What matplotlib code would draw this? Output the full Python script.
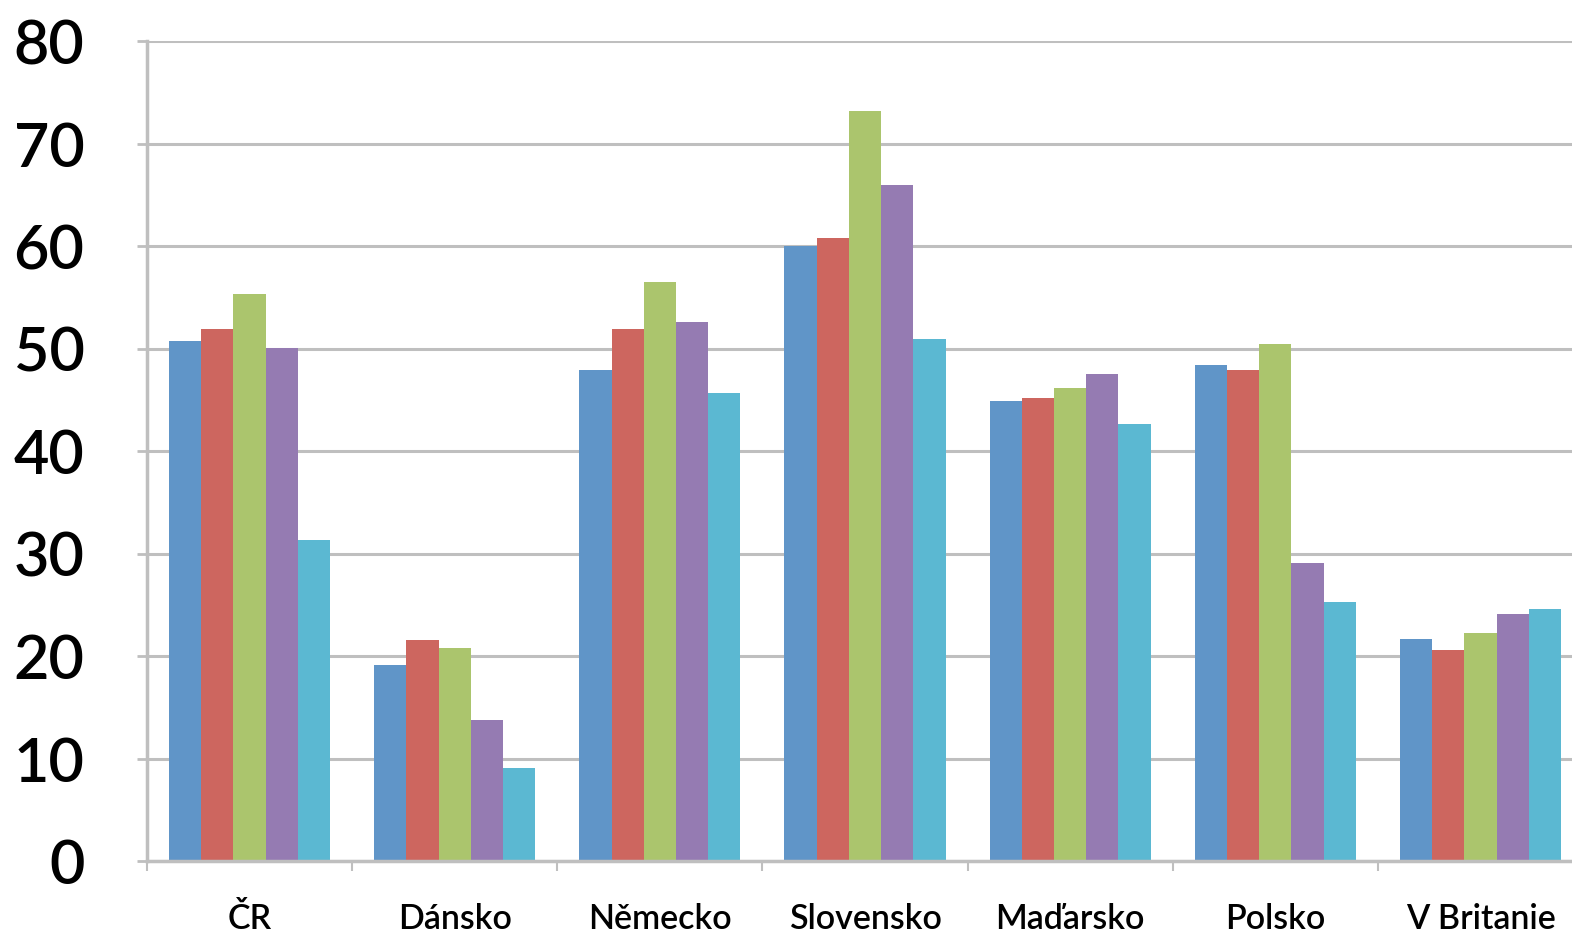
import numpy as np
import matplotlib
matplotlib.use("Agg")
import matplotlib.pyplot as plt
from matplotlib.ticker import FixedLocator

plt.rcParams['font.family'] = ['Lato', 'DejaVu Sans']

countries = ['ČR', 'Dánsko', 'Německo', 'Slovensko', 'Maďarsko', 'Polsko', 'V Britanie']
s1 = [50.7, 19.1, 47.9, 60.0, 44.9, 48.4, 21.7]
s2 = [51.9, 21.6, 51.9, 60.8, 45.2, 47.9, 20.6]
s3 = [55.3, 20.8, 56.5, 73.2, 46.2, 50.4, 22.2]
s4 = [50.1, 13.8, 52.6, 66.0, 47.5, 29.1, 24.1]
s5 = [31.3, 9.1, 45.7, 50.9, 42.6, 25.3, 24.6]

series = [s1, s2, s3, s4, s5]
colors = ['#6095C8', '#CD665F', '#ABC56D', '#957BB2', '#5BB8D2']

fig = plt.figure(figsize=(15.72, 9.36), dpi=100)
ax = fig.add_axes([0.0935, 0.0801, 0.9135, 0.876])

x = np.arange(len(countries))
w = 0.157
for i, (vals, c) in enumerate(zip(series, colors)):
    ax.bar(x + (i - 2) * w, vals, width=w, color=c, zorder=2, linewidth=0)

ax.set_xlim(-0.5, len(countries) - 0.5)
ax.set_ylim(0, 80)
ax.set_yticks(range(0, 81, 10))
ax.grid(axis='y', color='#BFBFBF', linewidth=2.2, zorder=0)

ax.set_xticks(x)
ax.set_xticklabels(countries, fontsize=24.5, fontweight='semibold')
ax.xaxis.set_minor_locator(FixedLocator(np.arange(-0.5, len(countries), 1)))
ax.tick_params(axis='x', which='major', length=0, pad=30)
ax.tick_params(axis='x', which='minor', length=7, width=1.5, color='#BFBFBF')
ax.tick_params(axis='y', labelsize=44, length=7, width=2, color='#BFBFBF', pad=38)
for lab in ax.get_yticklabels():
    lab.set_fontweight('semibold')

for side in ['top', 'right']:
    ax.spines[side].set_visible(False)
for side in ['left', 'bottom']:
    ax.spines[side].set_color('#BFBFBF')
    ax.spines[side].set_linewidth(2.5)

fig.savefig('out.png', dpi=100)
